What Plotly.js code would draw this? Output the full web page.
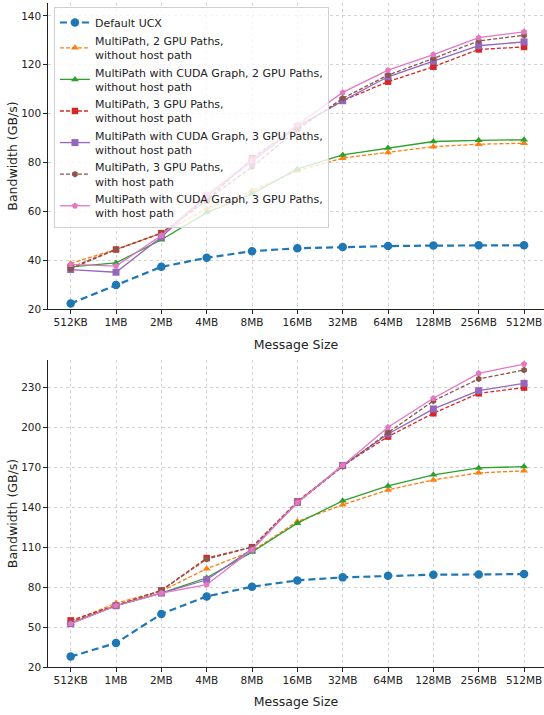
<!DOCTYPE html>
<html>
<head>
<meta charset="utf-8">
<script src="https://cdn.plot.ly/plotly-3.0.1.min.js"></script>
<style>
html,body{margin:0;padding:0;background:#fff;}
#chart{width:544px;height:715px;}
</style>
</head>
<body>
<div id="chart"></div>
<script>
// ---- data ----
const sizes = ["512KB","1MB","2MB","4MB","8MB","16MB","32MB","64MB","128MB","256MB","512MB"];
const seriesNames = [
  "Default UCX",
  "MultiPath, 2 GPU Paths,<br>without host path",
  "MultiPath with CUDA Graph, 2 GPU Paths,<br>without host path",
  "MultiPath, 3 GPU Paths,<br>without host path",
  "MultiPath with CUDA Graph, 3 GPU Paths,<br>without host path",
  "MultiPath, 3 GPU Paths,<br>with host path",
  "MultiPath with CUDA Graph, 3 GPU Paths,<br>with host path"
];
// top panel
const topUCX        = [22.3, 29.9, 37.3, 41.0, 43.7, 44.9, 45.4, 45.8, 46.0, 46.1, 46.1];
const topMP2        = [38.7, 44.4, 51.0, 61.0, 68.5, 76.6, 81.8, 84.1, 86.5, 87.5, 87.9];
const topMP2Graph   = [37.3, 38.9, 48.4, 59.5, 67.2, 77.4, 83.1, 85.9, 88.6, 89.1, 89.3];
const topMP3        = [37.0, 44.4, 51.1, 64.5, 81.8, 94.8, 105.3, 113.1, 119.2, 126.3, 127.3];
const topMP3Graph   = [36.2, 35.1, 49.5, 66.3, 80.5, 94.5, 105.3, 115.1, 121.5, 127.8, 129.4];
const topMP3Host    = [36.5, 44.4, 51.1, 64.5, 78.2, 93.5, 106.3, 115.8, 122.6, 129.8, 132.1];
const topMP3HostG   = [38.3, 37.6, 50.1, 66.6, 81.0, 95.5, 108.7, 117.8, 124.2, 131.1, 133.5];
// bottom panel
const botUCX        = [27.8, 38.0, 59.8, 73.0, 80.3, 85.0, 87.3, 88.5, 89.3, 89.5, 89.8];
const botMP2        = [54.0, 68.0, 77.0, 93.8, 107.0, 129.3, 141.8, 153.0, 160.5, 165.8, 167.3];
const botMP2Graph   = [53.0, 66.0, 75.5, 87.0, 106.3, 128.0, 144.8, 156.0, 164.3, 169.5, 170.5];
const botMP3        = [55.0, 66.0, 77.5, 101.8, 110.0, 144.3, 171.3, 193.0, 210.5, 225.5, 229.8];
const botMP3Graph   = [52.5, 66.0, 75.5, 85.5, 108.5, 143.5, 171.3, 195.0, 213.8, 227.5, 233.0];
const botMP3Host    = [53.5, 66.0, 77.5, 101.0, 110.0, 143.5, 170.5, 196.0, 219.8, 236.3, 243.0];
const botMP3HostG   = [52.5, 66.0, 75.5, 81.8, 108.0, 143.5, 171.3, 200.0, 221.8, 240.5, 247.5];
const topTicks = [20, 40, 60, 80, 100, 120, 140];
const botTicks = [20, 50, 80, 110, 140, 170, 200, 230];

// ---- styles ----
const styles = [
  {color:"#1f77b4", dash:"7px,4px", width:2.2, symbol:"circle", size:8.5},
  {color:"#ff7f0e", dash:"4px,2px", width:1.3, symbol:"triangle-up", size:7},
  {color:"#2ca02c", dash:"solid",   width:1.3, symbol:"triangle-up", size:7},
  {color:"#d62728", dash:"4px,2px", width:1.3, symbol:"square", size:6.5},
  {color:"#9467bd", dash:"solid",   width:1.3, symbol:"square", size:7},
  {color:"#8c564b", dash:"4px,2px", width:1.3, symbol:"hexagon", size:6.5},
  {color:"#e377c2", dash:"solid",   width:1.3, symbol:"pentagon", size:6.5}
];
const topData = [topUCX, topMP2, topMP2Graph, topMP3, topMP3Graph, topMP3Host, topMP3HostG];
const botData = [botUCX, botMP2, botMP2Graph, botMP3, botMP3Graph, botMP3Host, botMP3HostG];

const traces = [];
topData.forEach((ys, i) => {
  const s = styles[i];
  traces.push({x: sizes, y: ys, name: seriesNames[i], type: "scatter", mode: "lines+markers",
    xaxis: "x", yaxis: "y", legendgroup: "g"+i, showlegend: true,
    line: {color: s.color, dash: s.dash, width: s.width},
    marker: {symbol: s.symbol, size: s.size, color: s.color, line: {width: 0}}});
});
botData.forEach((ys, i) => {
  const s = styles[i];
  traces.push({x: sizes, y: ys, name: seriesNames[i], type: "scatter", mode: "lines+markers",
    xaxis: "x2", yaxis: "y2", legendgroup: "g"+i, showlegend: false,
    line: {color: s.color, dash: s.dash, width: s.width},
    marker: {symbol: s.symbol, size: s.size, color: s.color, line: {width: 0}}});
});

const font = "DejaVu Sans, sans-serif";
function xax(anchor) {
  return {
    anchor: anchor, type: "category", range: [-0.5, 10.44],
    showgrid: true, gridcolor: "#c8c8c8", griddash: "dot", gridwidth: 0.8,
    showline: true, linecolor: "#222", linewidth: 1.2,
    ticks: "outside", ticklen: 3.5, tickcolor: "#222", tickwidth: 1,
    tickfont: {family: font, size: 10.5, color: "#222"},
    zeroline: false,
    title: {text: "Message Size", font: {family: font, size: 12.5, color: "#222"}, standoff: 12}
  };
}
function yax(anchor, domain, range, ticks) {
  return {
    anchor: anchor, domain: domain, range: range, tickvals: ticks,
    showgrid: true, gridcolor: "#c8c8c8", griddash: "dot", gridwidth: 0.8,
    showline: true, linecolor: "#222", linewidth: 1.2,
    ticks: "outside", ticklen: 3.5, tickcolor: "#222", tickwidth: 1,
    tickfont: {family: font, size: 10.5, color: "#222"},
    zeroline: false,
    title: {text: "Bandwidth (GB/s)", font: {family: font, size: 12.5, color: "#222"}, standoff: 0}
  };
}

const layout = {
  width: 544, height: 715,
  margin: {l: 48, r: 0, t: 3, b: 48},
  paper_bgcolor: "#fff", plot_bgcolor: "#fff",
  font: {family: font, color: "#222"},
  xaxis: xax("y"),
  yaxis: yax("x", [0.539, 1], [20, 145.3], topTicks),
  xaxis2: xax("y2"),
  yaxis2: yax("x2", [0, 0.4623], [20, 250.5], botTicks),
  showlegend: true,
  legend: {
    x: 0.012, y: 0.994, xanchor: "left", yanchor: "top",
    bgcolor: "rgba(255,255,255,0.8)", bordercolor: "#d0d0d0", borderwidth: 1,
    font: {family: font, size: 11, color: "#222"},
    tracegroupgap: 0, itemwidth: 30
  }
};

Plotly.newPlot("chart", traces, layout, {displayModeBar: false, staticPlot: true});
</script>
</body>
</html>
